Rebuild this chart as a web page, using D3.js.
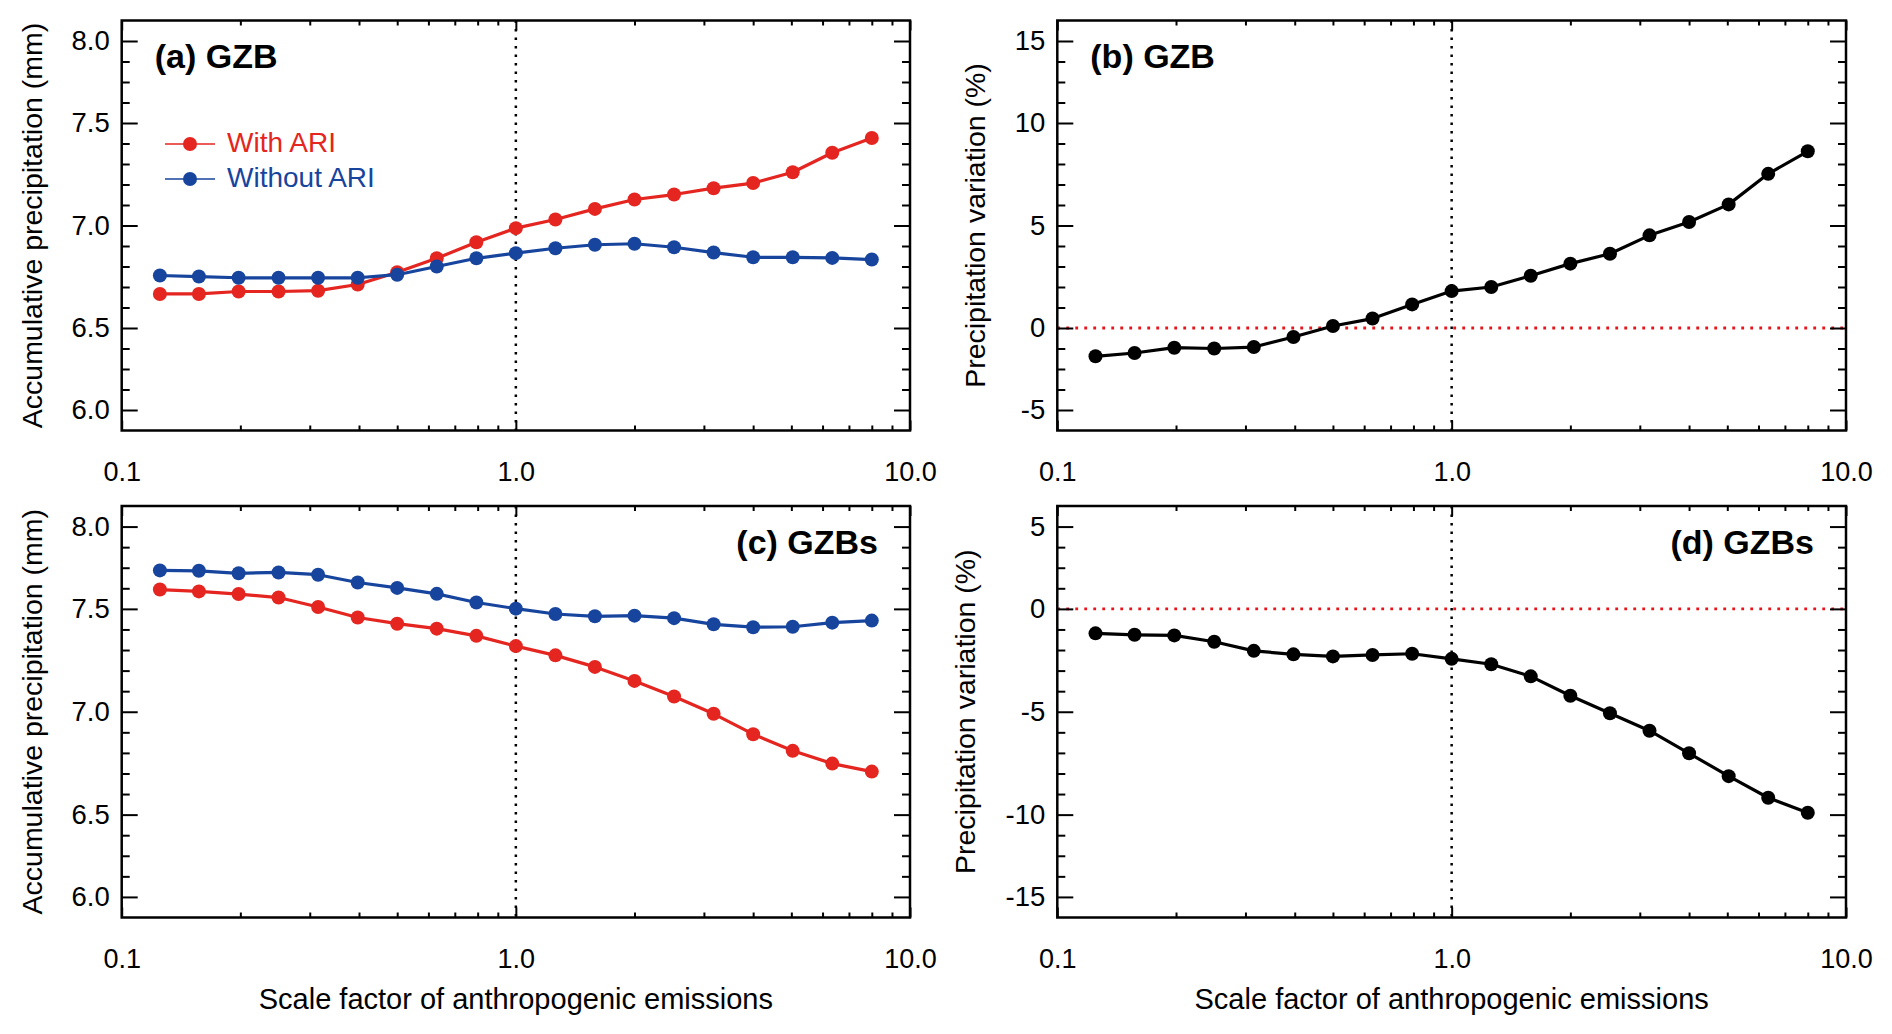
<!DOCTYPE html>
<html>
<head>
<meta charset="utf-8">
<script src="https://d3js.org/d3.v7.min.js"></script>
<style>
  body { margin: 0; background: #fff; }
  svg { display: block; }
</style>
</head>
<body>
<svg></svg>
<script>
// scale factors of anthropogenic emissions (x values, shared by all panels)
let scaleFactor = [0.125, 0.157, 0.198, 0.25, 0.315, 0.397, 0.5, 0.63, 0.794, 1.0,
                   1.26, 1.587, 2.0, 2.52, 3.175, 4.0, 5.04, 6.35, 8.0];

// (a) GZB accumulative precipitation (mm)
let gzbWithAri    = [6.666, 6.666, 6.678, 6.678, 6.682, 6.712, 6.772, 6.840, 6.918, 6.987,
                     7.029, 7.081, 7.127, 7.151, 7.182, 7.207, 7.260, 7.355, 7.427];
let gzbWithoutAri = [6.756, 6.751, 6.745, 6.745, 6.745, 6.745, 6.760, 6.800, 6.840, 6.865,
                     6.889, 6.906, 6.911, 6.894, 6.868, 6.845, 6.845, 6.842, 6.834];
// (b) GZB precipitation variation (%)
let gzbVariation  = [-1.38, -1.22, -0.96, -1.00, -0.93, -0.44, 0.10, 0.46, 1.15, 1.80,
                     2.00, 2.55, 3.14, 3.62, 4.52, 5.17, 6.03, 7.52, 8.62];

// (c) GZBs accumulative precipitation (mm)
let gzbsWithAri    = [7.594, 7.585, 7.572, 7.555, 7.509, 7.458, 7.428, 7.404, 7.369, 7.319,
                      7.274, 7.218, 7.150, 7.074, 6.990, 6.891, 6.810, 6.748, 6.709];
let gzbsWithoutAri = [7.687, 7.685, 7.673, 7.677, 7.666, 7.628, 7.602, 7.573, 7.531, 7.501,
                      7.475, 7.464, 7.467, 7.455, 7.425, 7.411, 7.413, 7.433, 7.443];
// (d) GZBs precipitation variation (%)
let gzbsVariation  = [-1.19, -1.26, -1.29, -1.60, -2.04, -2.21, -2.31, -2.24, -2.18, -2.43,
                      -2.69, -3.28, -4.22, -5.07, -5.92, -7.02, -8.13, -9.18, -9.91];

// tick labels (the end labels sit one minor step inside the frame, as in the original)
let xTicks = [0.1, 1, 10];
let xTickLabels = ["0.1", "1.0", "10.0"];
let xMinorTicks = [0.2, 0.3, 0.4, 0.5, 0.6, 0.7, 0.8, 0.9, 2, 3, 4, 5, 6, 7, 8, 9];

let accTicks = [6.1, 6.5, 7.0, 7.5, 7.9];
let accTickLabels = ["6.0", "6.5", "7.0", "7.5", "8.0"];
let varUpTicks = [-4, 0, 5, 10, 14];
let varUpTickLabels = ["-5", "0", "5", "10", "15"];
let varDownTicks = [-14, -10, -5, 0, 4];
let varDownTickLabels = ["-15", "-10", "-5", "0", "5"];

let seriesNames = ["With ARI", "Without ARI"];

let width = 1892;
let height = 1034;
let font = "'Liberation Sans', Arial, Helvetica, sans-serif";
let red = "#e42520";
let blue = "#17459e";

let svg = d3.select("svg").attr("width", width).attr("height", height);

// frame boxes of the four panels
let cols = [[121.7, 910], [1057.3, 1846]];
let rows = [[20.5, 430.5], [506, 917.5]];

let panels = [
  { label: "(a) GZB", col: 0, row: 0, domain: [6, 8], ticks: accTicks, tickLabels: accTickLabels,
    minorStep: 0.1, series: [gzbWithAri, gzbWithoutAri], colors: [red, blue], legend: true,
    ytitle: "Accumulative precipitation (mm)", titleX: 42, labelRight: false },
  { label: "(b) GZB", col: 1, row: 0, domain: [-5, 15], ticks: varUpTicks, tickLabels: varUpTickLabels,
    minorStep: 1, series: [gzbVariation], colors: ["#000"], zeroLine: true,
    ytitle: "Precipitation variation (%)", titleX: 985, labelRight: false },
  { label: "(c) GZBs", col: 0, row: 1, domain: [6, 8], ticks: accTicks, tickLabels: accTickLabels,
    minorStep: 0.1, series: [gzbsWithAri, gzbsWithoutAri], colors: [red, blue],
    ytitle: "Accumulative precipitation (mm)", titleX: 42, labelRight: true, xtitle: true },
  { label: "(d) GZBs", col: 1, row: 1, domain: [-15, 5], ticks: varDownTicks, tickLabels: varDownTickLabels,
    minorStep: 1, series: [gzbsVariation], colors: ["#000"], zeroLine: true,
    ytitle: "Precipitation variation (%)", titleX: 975, labelRight: true, xtitle: true },
];

let styleAxis = (g, size) => {
  g.select(".domain").remove();
  g.attr("font-family", font).attr("font-size", size);
  g.selectAll(".tick line").attr("stroke", "#000").attr("stroke-width", 2);
  g.selectAll(".tick text").attr("fill", "#000");
};

let drawPanel = (p) => {
  let [x0, x1] = cols[p.col];
  let [y0, y1] = rows[p.row];
  let g = svg.append("g");

  let xScale = d3.scaleLog().domain([0.1, 10]).range([x0, x1]);
  let yScale = d3.scaleLinear().domain(p.domain).range([y1, y0]);

  // dotted reference lines
  g.append("line")
    .attr("x1", xScale(1)).attr("x2", xScale(1))
    .attr("y1", y0).attr("y2", y1)
    .attr("stroke", "#000").attr("stroke-width", 2.5)
    .attr("stroke-dasharray", "2.5,6");
  if (p.zeroLine) {
    g.append("line")
      .attr("x1", x0).attr("x2", x1)
      .attr("y1", yScale(0)).attr("y2", yScale(0))
      .attr("stroke", "#e8141c").attr("stroke-width", 2.8)
      .attr("stroke-dasharray", "2.8,6.2");
  }

  // lines and markers
  let line = d3.line().x((d) => xScale(d[0])).y((d) => yScale(d[1]));
  p.series.forEach((values, i) => {
    let pts = d3.zip(scaleFactor, values);
    g.append("path")
      .datum(pts)
      .attr("d", line)
      .attr("fill", "none")
      .attr("stroke", p.colors[i])
      .attr("stroke-width", 3.2)
      .attr("stroke-linejoin", "round");
    g.selectAll(null)
      .data(pts)
      .enter()
      .append("circle")
      .attr("cx", (d) => xScale(d[0]))
      .attr("cy", (d) => yScale(d[1]))
      .attr("r", 7)
      .attr("fill", p.colors[i]);
  });

  // x axes (bottom labelled, top mirrored), ticks pointing inward
  let minorY = d3.range(p.domain[0] + p.minorStep, p.domain[1] - p.minorStep / 2, p.minorStep)
    .filter((v) => !p.ticks.some((t) => Math.abs(t - v) < 1e-6));

  g.append("g")
    .attr("transform", "translate(0," + y1 + ")")
    .call(d3.axisBottom(xScale).tickValues(xTicks).tickSizeInner(-10).tickSizeOuter(0)
      .tickPadding(31).tickFormat((d, i) => xTickLabels[i]))
    .call(styleAxis, 27);
  g.append("g")
    .attr("transform", "translate(0," + y1 + ")")
    .call(d3.axisBottom(xScale).tickValues(xMinorTicks).tickSizeInner(-5).tickSizeOuter(0).tickFormat(""))
    .call(styleAxis, 27);
  g.append("g")
    .attr("transform", "translate(0," + y0 + ")")
    .call(d3.axisTop(xScale).tickValues(xTicks).tickSizeInner(-10).tickSizeOuter(0).tickFormat(""))
    .call(styleAxis, 27);
  g.append("g")
    .attr("transform", "translate(0," + y0 + ")")
    .call(d3.axisTop(xScale).tickValues(xMinorTicks).tickSizeInner(-5).tickSizeOuter(0).tickFormat(""))
    .call(styleAxis, 27);

  // y axes (left labelled, right mirrored)
  g.append("g")
    .attr("transform", "translate(" + x0 + ",0)")
    .call(d3.axisLeft(yScale).tickValues(p.ticks).tickSizeInner(-16).tickSizeOuter(0)
      .tickPadding(12).tickFormat((d, i) => p.tickLabels[i]))
    .call(styleAxis, 27.5);
  g.append("g")
    .attr("transform", "translate(" + x0 + ",0)")
    .call(d3.axisLeft(yScale).tickValues(minorY).tickSizeInner(-8).tickSizeOuter(0).tickFormat(""))
    .call(styleAxis, 27.5);
  g.append("g")
    .attr("transform", "translate(" + x1 + ",0)")
    .call(d3.axisRight(yScale).tickValues(p.ticks).tickSizeInner(-16).tickSizeOuter(0).tickFormat(""))
    .call(styleAxis, 27.5);
  g.append("g")
    .attr("transform", "translate(" + x1 + ",0)")
    .call(d3.axisRight(yScale).tickValues(minorY).tickSizeInner(-8).tickSizeOuter(0).tickFormat(""))
    .call(styleAxis, 27.5);

  // frame
  g.append("rect")
    .attr("x", x0).attr("y", y0)
    .attr("width", x1 - x0).attr("height", y1 - y0)
    .attr("fill", "none").attr("stroke", "#000").attr("stroke-width", 2.5);

  // panel label
  g.append("text")
    .attr("x", p.labelRight ? x1 - 32 : x0 + 33)
    .attr("y", y0 + (p.labelRight ? 48 : 47.5))
    .attr("text-anchor", p.labelRight ? "end" : "start")
    .attr("font-family", font).attr("font-weight", "bold").attr("font-size", 34)
    .text(p.label);

  // y title
  g.append("text")
    .attr("transform", "translate(" + p.titleX + "," + (y0 + y1) / 2 + ") rotate(-90)")
    .attr("text-anchor", "middle")
    .attr("font-family", font).attr("font-size", 28.5)
    .text(p.ytitle);

  if (p.xtitle) {
    g.append("text")
      .attr("x", (x0 + x1) / 2).attr("y", 1009)
      .attr("text-anchor", "middle")
      .attr("font-family", font).attr("font-size", 29)
      .text("Scale factor of anthropogenic emissions");
  }

  if (p.legend) {
    let lg = g.append("g");
    seriesNames.forEach((name, i) => {
      let ly = 144 + i * 35;
      lg.append("line")
        .attr("x1", 165).attr("x2", 215).attr("y1", ly).attr("y2", ly)
        .attr("stroke", p.colors[i]).attr("stroke-width", 1.6);
      lg.append("circle").attr("cx", 190).attr("cy", ly).attr("r", 7).attr("fill", p.colors[i]);
      lg.append("text")
        .attr("x", 227).attr("y", ly + 8)
        .attr("font-family", font).attr("font-size", 28)
        .attr("fill", p.colors[i])
        .text(name);
    });
  }
};

panels.forEach(drawPanel);
</script>
</body>
</html>
